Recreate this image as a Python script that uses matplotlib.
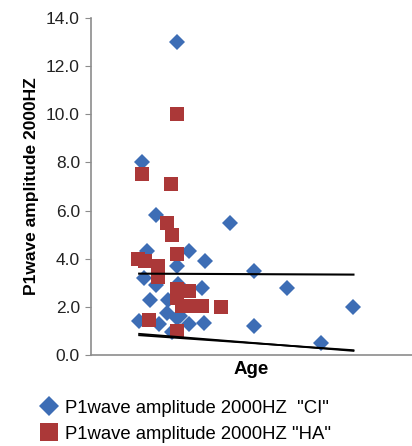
import matplotlib
matplotlib.use('Agg')
import matplotlib.pyplot as plt

# Age (arbitrary units read from pixel positions) and P1 amplitude values
ci_age = [18.2, 10.9, 13.7, 29.4, 11.8, 20.8, 24.2, 18.2, 34.6, 11.3, 13.7,
          18.5, 23.5, 41.6, 12.4, 16.3, 55.5, 16.0, 18.2, 18.9, 10.1, 14.4,
          20.8, 23.9, 34.6, 17.1, 48.7]
ci_amp = [13.0, 8.0, 5.8, 5.5, 4.3, 4.3, 3.9, 3.7, 3.5, 3.2, 2.9,
          2.95, 2.8, 2.8, 2.3, 2.3, 2.0, 1.75, 1.55, 1.6, 1.4, 1.3,
          1.3, 1.35, 1.2, 0.95, 0.5]

ha_age = [18.2, 10.9, 16.9, 16.2, 17.2, 18.2, 10.0, 11.4, 14.1, 14.2,
          18.2, 20.8, 18.2, 19.2, 21.3, 23.5, 27.5, 12.3, 18.2]
ha_amp = [10.0, 7.5, 7.1, 5.5, 5.0, 4.2, 4.0, 3.9, 3.7, 3.25,
          2.75, 2.65, 2.35, 2.05, 2.05, 2.05, 2.0, 1.45, 1.0]

# trend lines
trend_x = [10.2, 55.6]
trend_upper = [3.38, 3.34]
trend_lower_a = [0.88, 0.17]
trend_lower_b = [0.82, 0.20]

yticks = [0, 2, 4, 6, 8, 10, 12, 14]

plt.rcParams['font.family'] = ['Liberation Sans', 'DejaVu Sans']

fig = plt.figure(figsize=(4.12, 4.46), dpi=100)
ax = fig.add_axes([91 / 412, (446 - 355) / 446, 321 / 412, 337 / 446])

ax.plot(ci_age, ci_amp, 'D', color='#3d6db5', markersize=8.5,
        markeredgewidth=0, label='P1wave amplitude 2000HZ  "CI"', zorder=3)
ax.plot(ha_age, ha_amp, 's', color='#ab3838', markersize=10.5,
        markeredgewidth=0, label='P1wave amplitude 2000HZ "HA"', zorder=4)

ax.plot(trend_x, trend_upper, color='black', linewidth=1.5, zorder=5)
ax.plot(trend_x, trend_lower_a, color='black', linewidth=1.3, zorder=5)
ax.plot(trend_x, trend_lower_b, color='black', linewidth=1.3, zorder=5)

ax.set_xlim(0, 68)
ax.set_ylim(0, 14)
ax.set_yticks(yticks)
ax.set_yticklabels([f'{v:.1f}' for v in yticks], fontsize=12.5, color='#222222')
ax.set_xticks([])

for side in ['top', 'right']:
    ax.spines[side].set_visible(False)
for side in ['left', 'bottom']:
    ax.spines[side].set_color('#8c8c8c')
    ax.spines[side].set_linewidth(1.2)
ax.tick_params(axis='y', direction='out', length=4, color='#8c8c8c', pad=4)

ax.set_ylabel('P1wave amplitude 2000HZ', fontsize=12.5, fontweight='bold',
              labelpad=5)
ax.set_xlabel('Age', fontsize=13.5, fontweight='bold', labelpad=4)

fig.legend(loc='upper left', bbox_to_anchor=(0.097, 0.104), frameon=False,
           fontsize=13.3, handletextpad=0.35, labelspacing=0.5,
           borderaxespad=0, borderpad=0, handlelength=1.0, markerscale=1.2)

fig.savefig('out.png', dpi=100)
